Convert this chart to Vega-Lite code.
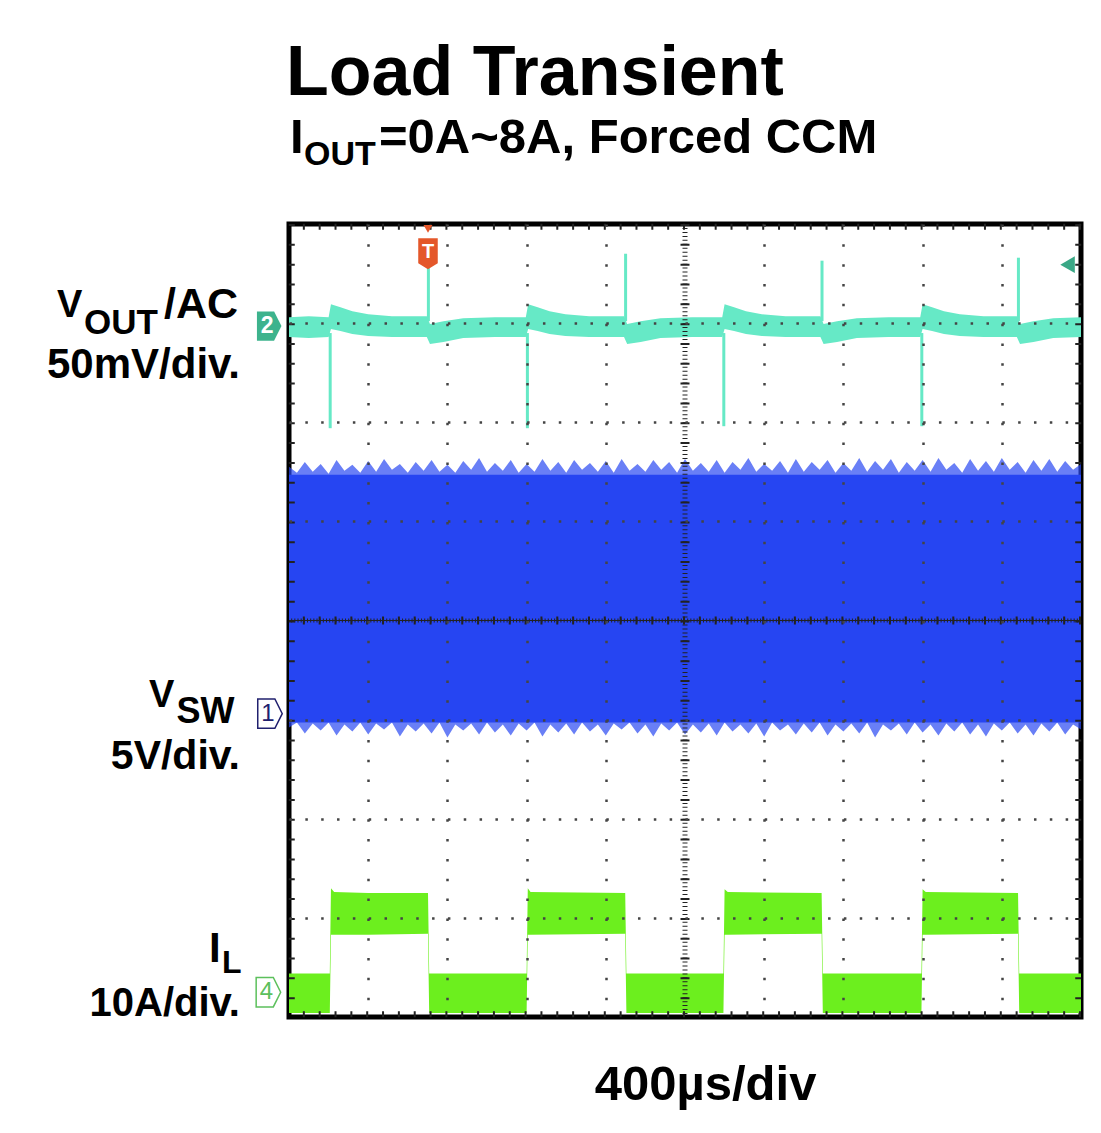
{
  "$schema": "https://vega.github.io/schema/vega-lite/v6.json",
  "autosize": {"type": "none"},
  "padding": {"left": 289, "top": 224, "right": 20, "bottom": 116},
  "width": 792,
  "height": 793,
  "background": "white",
  "config": {
    "view": {"stroke": "#000", "strokeWidth": 5},
    "font": "Liberation Sans",
    "text": {"font": "Liberation Sans"}
  },
  "datasets": {
    "one": [{}],
    "vswcore": [{"t": 0, "hi": 5.47, "lo": 2.97}, {"t": 10, "hi": 5.47, "lo": 2.97}],
    "vsw": [
      {"t":0.0,"fh":5.55,"fl":2.92},{"t":0.1,"fh":5.49,"fl":2.97},{"t":0.2,"fh":5.60,"fl":2.86},{"t":0.3,"fh":5.50,"fl":2.96},{"t":0.4,"fh":5.58,"fl":2.89},
      {"t":0.5,"fh":5.48,"fl":2.97},{"t":0.6,"fh":5.62,"fl":2.84},{"t":0.7,"fh":5.51,"fl":2.95},{"t":0.8,"fh":5.57,"fl":2.88},{"t":0.9,"fh":5.49,"fl":2.97},
      {"t":1.0,"fh":5.61,"fl":2.85},{"t":1.1,"fh":5.50,"fl":2.96},{"t":1.2,"fh":5.63,"fl":2.90},{"t":1.3,"fh":5.52,"fl":2.97},{"t":1.4,"fh":5.58,"fl":2.83},
      {"t":1.5,"fh":5.49,"fl":2.95},{"t":1.6,"fh":5.60,"fl":2.88},{"t":1.7,"fh":5.51,"fl":2.96},{"t":1.8,"fh":5.62,"fl":2.86},{"t":1.9,"fh":5.50,"fl":2.97},
      {"t":2.0,"fh":5.57,"fl":2.82},{"t":2.1,"fh":5.49,"fl":2.95},{"t":2.2,"fh":5.61,"fl":2.89},{"t":2.3,"fh":5.52,"fl":2.96},{"t":2.4,"fh":5.64,"fl":2.85},
      {"t":2.5,"fh":5.50,"fl":2.97},{"t":2.6,"fh":5.59,"fl":2.87},{"t":2.7,"fh":5.51,"fl":2.95},{"t":2.8,"fh":5.62,"fl":2.84},{"t":2.9,"fh":5.49,"fl":2.96},
      {"t":3.0,"fh":5.58,"fl":2.89},{"t":3.1,"fh":5.50,"fl":2.97},{"t":3.2,"fh":5.63,"fl":2.83},{"t":3.3,"fh":5.51,"fl":2.95},{"t":3.4,"fh":5.60,"fl":2.87},
      {"t":3.5,"fh":5.49,"fl":2.96},{"t":3.6,"fh":5.62,"fl":2.85},{"t":3.7,"fh":5.52,"fl":2.97},{"t":3.8,"fh":5.59,"fl":2.88},{"t":3.9,"fh":5.50,"fl":2.95},
      {"t":4.0,"fh":5.61,"fl":2.84},{"t":4.1,"fh":5.49,"fl":2.96},{"t":4.2,"fh":5.63,"fl":2.90},{"t":4.3,"fh":5.51,"fl":2.97},{"t":4.4,"fh":5.58,"fl":2.86},
      {"t":4.5,"fh":5.50,"fl":2.95},{"t":4.6,"fh":5.62,"fl":2.83},{"t":4.7,"fh":5.52,"fl":2.96},{"t":4.8,"fh":5.60,"fl":2.89},{"t":4.9,"fh":5.49,"fl":2.97},
      {"t":5.0,"fh":5.63,"fl":2.85},{"t":5.1,"fh":5.51,"fl":2.95},{"t":5.2,"fh":5.59,"fl":2.87},{"t":5.3,"fh":5.50,"fl":2.96},{"t":5.4,"fh":5.62,"fl":2.84},
      {"t":5.5,"fh":5.49,"fl":2.97},{"t":5.6,"fh":5.60,"fl":2.88},{"t":5.7,"fh":5.52,"fl":2.95},{"t":5.8,"fh":5.64,"fl":2.86},{"t":5.9,"fh":5.50,"fl":2.96},
      {"t":6.0,"fh":5.58,"fl":2.83},{"t":6.1,"fh":5.51,"fl":2.97},{"t":6.2,"fh":5.61,"fl":2.89},{"t":6.3,"fh":5.49,"fl":2.95},{"t":6.4,"fh":5.63,"fl":2.85},
      {"t":6.5,"fh":5.50,"fl":2.96},{"t":6.6,"fh":5.60,"fl":2.87},{"t":6.7,"fh":5.52,"fl":2.97},{"t":6.8,"fh":5.62,"fl":2.84},{"t":6.9,"fh":5.49,"fl":2.95},
      {"t":7.0,"fh":5.59,"fl":2.88},{"t":7.1,"fh":5.51,"fl":2.96},{"t":7.2,"fh":5.64,"fl":2.86},{"t":7.3,"fh":5.50,"fl":2.97},{"t":7.4,"fh":5.61,"fl":2.82},
      {"t":7.5,"fh":5.52,"fl":2.95},{"t":7.6,"fh":5.63,"fl":2.89},{"t":7.7,"fh":5.49,"fl":2.96},{"t":7.8,"fh":5.60,"fl":2.85},{"t":7.9,"fh":5.51,"fl":2.97},
      {"t":8.0,"fh":5.62,"fl":2.87},{"t":8.1,"fh":5.50,"fl":2.95},{"t":8.2,"fh":5.64,"fl":2.84},{"t":8.3,"fh":5.52,"fl":2.96},{"t":8.4,"fh":5.59,"fl":2.88},
      {"t":8.5,"fh":5.49,"fl":2.97},{"t":8.6,"fh":5.63,"fl":2.85},{"t":8.7,"fh":5.51,"fl":2.95},{"t":8.8,"fh":5.61,"fl":2.83},{"t":8.9,"fh":5.50,"fl":2.96},
      {"t":9.0,"fh":5.64,"fl":2.89},{"t":9.1,"fh":5.52,"fl":2.97},{"t":9.2,"fh":5.60,"fl":2.86},{"t":9.3,"fh":5.49,"fl":2.95},{"t":9.4,"fh":5.62,"fl":2.84},
      {"t":9.5,"fh":5.51,"fl":2.96},{"t":9.6,"fh":5.63,"fl":2.88},{"t":9.7,"fh":5.50,"fl":2.97},{"t":9.8,"fh":5.61,"fl":2.85},{"t":9.9,"fh":5.52,"fl":2.95},
      {"t":10.0,"fh":5.58,"fl":2.90}
    ],
    "vout": [
      {"t":0.00,"hi":7.06,"lo":6.86},{"t":0.25,"hi":7.07,"lo":6.85},{"t":0.50,"hi":7.06,"lo":6.86},{"t":0.53,"hi":7.19,"lo":6.94},
      {"t":0.65,"hi":7.16,"lo":6.92},{"t":0.80,"hi":7.12,"lo":6.89},{"t":1.00,"hi":7.09,"lo":6.87},{"t":1.30,"hi":7.07,"lo":6.86},
      {"t":1.74,"hi":7.07,"lo":6.86},{"t":1.78,"hi":6.99,"lo":6.79},{"t":1.95,"hi":7.02,"lo":6.81},{"t":2.20,"hi":7.05,"lo":6.85},
      {"t":2.60,"hi":7.06,"lo":6.86},{"t":2.99,"hi":7.06,"lo":6.86},{"t":3.02,"hi":7.19,"lo":6.94},{"t":3.14,"hi":7.16,"lo":6.92},
      {"t":3.29,"hi":7.12,"lo":6.89},{"t":3.49,"hi":7.09,"lo":6.87},{"t":3.79,"hi":7.07,"lo":6.86},{"t":4.23,"hi":7.07,"lo":6.86},
      {"t":4.27,"hi":6.99,"lo":6.79},{"t":4.44,"hi":7.02,"lo":6.81},{"t":4.69,"hi":7.05,"lo":6.85},{"t":5.09,"hi":7.06,"lo":6.86},
      {"t":5.47,"hi":7.06,"lo":6.86},{"t":5.50,"hi":7.19,"lo":6.94},{"t":5.62,"hi":7.16,"lo":6.92},{"t":5.77,"hi":7.12,"lo":6.89},
      {"t":5.97,"hi":7.09,"lo":6.87},{"t":6.27,"hi":7.07,"lo":6.86},{"t":6.71,"hi":7.07,"lo":6.86},{"t":6.75,"hi":6.99,"lo":6.79},
      {"t":6.92,"hi":7.02,"lo":6.81},{"t":7.17,"hi":7.05,"lo":6.85},{"t":7.57,"hi":7.06,"lo":6.86},{"t":7.97,"hi":7.06,"lo":6.86},
      {"t":8.00,"hi":7.19,"lo":6.94},{"t":8.12,"hi":7.16,"lo":6.92},{"t":8.27,"hi":7.12,"lo":6.89},{"t":8.47,"hi":7.09,"lo":6.87},
      {"t":8.77,"hi":7.07,"lo":6.86},{"t":9.19,"hi":7.07,"lo":6.86},{"t":9.23,"hi":6.99,"lo":6.79},{"t":9.40,"hi":7.02,"lo":6.81},
      {"t":9.65,"hi":7.05,"lo":6.85},{"t":10.00,"hi":7.06,"lo":6.86}
    ],
    "spikes": [
      {"t":0.52,"a":6.90,"b":5.94},{"t":3.01,"a":6.90,"b":5.94},{"t":5.49,"a":6.90,"b":5.96},{"t":7.99,"a":6.90,"b":5.96},
      {"t":1.76,"a":7.02,"b":7.60},{"t":4.25,"a":7.02,"b":7.70},{"t":6.73,"a":7.02,"b":7.63},{"t":9.21,"a":7.02,"b":7.66}
    ],
    "il": [
      {"t":0.00,"hi":0.44,"lo":0.04},{"t":0.515,"hi":0.44,"lo":0.04},{"t":0.53,"hi":1.30,"lo":0.83},{"t":0.57,"hi":1.26,"lo":0.83},
      {"t":1.00,"hi":1.25,"lo":0.83},{"t":1.755,"hi":1.25,"lo":0.84},{"t":1.77,"hi":0.44,"lo":0.04},{"t":3.00,"hi":0.44,"lo":0.04},
      {"t":3.015,"hi":1.30,"lo":0.83},{"t":3.05,"hi":1.26,"lo":0.83},{"t":4.245,"hi":1.25,"lo":0.84},{"t":4.26,"hi":0.44,"lo":0.04},
      {"t":5.485,"hi":0.44,"lo":0.04},{"t":5.50,"hi":1.29,"lo":0.83},{"t":5.54,"hi":1.26,"lo":0.83},{"t":6.725,"hi":1.25,"lo":0.84},
      {"t":6.74,"hi":0.44,"lo":0.04},{"t":7.985,"hi":0.44,"lo":0.04},{"t":8.00,"hi":1.29,"lo":0.83},{"t":8.04,"hi":1.26,"lo":0.83},
      {"t":9.205,"hi":1.25,"lo":0.84},{"t":9.22,"hi":0.44,"lo":0.04},{"t":10.00,"hi":0.44,"lo":0.04}
    ],
    "txtL": [
      {"x":0.013,"y":8.716,"txt":"I","fs":49},
      {"x":0.189,"y":8.595,"txt":"OUT","fs":34},
      {"x":1.136,"y":8.716,"txt":"=0A~8A, Forced CCM","fs":49},
      {"x":-2.929,"y":7.062,"txt":"V","fs":38},
      {"x":-2.588,"y":6.890,"txt":"OUT","fs":35},
      {"x":-1.768,"y":3.127,"txt":"V","fs":38},
      {"x":-1.420,"y":2.966,"txt":"SW","fs":36},
      {"x":-1.010,"y":0.555,"txt":"I","fs":42},
      {"x":-0.846,"y":0.445,"txt":"L","fs":32}
    ],
    "txtR": [
      {"x":-0.644,"y":7.052,"txt":"/AC","fs":43},
      {"x":-0.619,"y":6.447,"txt":"50mV/div.","fs":42},
      {"x":-0.619,"y":2.502,"txt":"5V/div.","fs":41},
      {"x":-0.619,"y":0.010,"txt":"10A/div.","fs":40}
    ],
    "txtB": [{"x":-0.038,"y":9.301,"txt":"Load Transient","fs":70}],
    "txtC": [{"x":5.26,"y":-0.837,"txt":"400µs/div","fs":49}]
  },
  "layer": [
    {
      "data": {"name": "vswcore"},
      "mark": {"type": "area", "color": "#1e3cf2"},
      "encoding": {
        "x": {"field": "t", "type": "quantitative", "scale": {"domain": [0, 10], "nice": false, "zero": false},
              "axis": {"values": [1,2,3,4,6,7,8,9], "labels": false, "ticks": false, "domain": false, "title": null,
                       "grid": true, "gridColor": "#444", "gridWidth": 2.5, "gridDash": [2.5, 17.325], "gridOpacity": 1, "zindex": 1}},
        "y": {"field": "hi", "type": "quantitative", "scale": {"domain": [0, 8], "nice": false, "zero": false},
              "axis": {"values": [1,2,3,5,6,7], "labels": false, "ticks": false, "domain": false, "title": null,
                       "grid": true, "gridColor": "#444", "gridWidth": 2.5, "gridDash": [2.5, 13.34], "gridOpacity": 1, "zindex": 1}},
        "y2": {"field": "lo"}
      }
    },
    {
      "data": {"name": "vsw"},
      "mark": {"type": "area", "color": "#2a48f2", "opacity": 0.7},
      "encoding": {
        "x": {"field": "t", "type": "quantitative"},
        "y": {"field": "fh", "type": "quantitative"},
        "y2": {"field": "fl"}
      }
    },
    {
      "data": {"name": "vout"},
      "mark": {"type": "area", "color": "#66e9c6"},
      "encoding": {
        "x": {"field": "t", "type": "quantitative"},
        "y": {"field": "hi", "type": "quantitative"},
        "y2": {"field": "lo"}
      }
    },
    {
      "data": {"name": "spikes"},
      "mark": {"type": "rule", "color": "#66e9c6", "strokeWidth": 3},
      "encoding": {
        "x": {"field": "t", "type": "quantitative"},
        "y": {"field": "a", "type": "quantitative"},
        "y2": {"field": "b"}
      }
    },
    {
      "data": {"name": "il"},
      "mark": {"type": "area", "color": "#6cef1e"},
      "encoding": {
        "x": {"field": "t", "type": "quantitative"},
        "y": {"field": "hi", "type": "quantitative"},
        "y2": {"field": "lo"}
      }
    },
    {"data": {"name": "one"}, "mark": {"type": "rule", "color": "#222", "strokeWidth": 5, "strokeDash": [1, 2.965]}, "encoding": {"x": {"datum": 5}}},
    {"data": {"name": "one"}, "mark": {"type": "rule", "color": "#222", "strokeWidth": 9, "strokeDash": [2, 17.825]}, "encoding": {"x": {"datum": 5}}},
    {"data": {"name": "one"}, "mark": {"type": "rule", "color": "#222", "strokeWidth": 1}, "encoding": {"y": {"datum": 4}}},
    {"data": {"name": "one"}, "mark": {"type": "rule", "color": "#222", "strokeWidth": 4, "strokeDash": [1, 2.168]}, "encoding": {"y": {"datum": 4}}},
    {"data": {"name": "one"}, "mark": {"type": "rule", "color": "#222", "strokeWidth": 8, "strokeDash": [2, 13.84]}, "encoding": {"y": {"datum": 4}}},
    {"data": {"name": "one"}, "mark": {"type": "rule", "color": "#222", "strokeWidth": 6, "strokeDash": [2, 17.825]}, "encoding": {"x": {"datum": 0.035}}},
    {"data": {"name": "one"}, "mark": {"type": "rule", "color": "#222", "strokeWidth": 6, "strokeDash": [2, 17.825]}, "encoding": {"x": {"datum": 9.965}}},
    {"data": {"name": "one"}, "mark": {"type": "rule", "color": "#222", "strokeWidth": 6, "strokeDash": [2, 13.84]}, "encoding": {"y": {"datum": 7.972}}},
    {"data": {"name": "one"}, "mark": {"type": "rule", "color": "#222", "strokeWidth": 6, "strokeDash": [2, 13.84]}, "encoding": {"y": {"datum": 0.028}}},
    {
      "data": {"name": "one"},
      "mark": {"type": "point", "shape": "M-0.63,-1 L0.63,-1 L0.63,0.62 L0,1 L-0.63,0.62 Z", "filled": true, "color": "#e4572a", "opacity": 1, "size": 960},
      "encoding": {"x": {"datum": 1.755}, "y": {"datum": 7.70}}
    },
    {
      "data": {"name": "one"},
      "mark": {"type": "text", "text": "T", "font": "Liberation Sans", "fontWeight": "bold", "fontSize": 20, "color": "white", "baseline": "middle", "align": "center"},
      "encoding": {"x": {"datum": 1.755}, "y": {"datum": 7.72}}
    },
    {
      "data": {"name": "one"},
      "mark": {"type": "point", "shape": "triangle-down", "filled": true, "color": "#e4572a", "opacity": 1, "size": 80},
      "encoding": {"x": {"datum": 1.755}, "y": {"datum": 7.95}}
    },
    {
      "data": {"name": "one"},
      "mark": {"type": "point", "shape": "triangle-left", "filled": true, "color": "#3aa886", "opacity": 1, "size": 280},
      "encoding": {"x": {"datum": 9.83}, "y": {"datum": 7.59}}
    },
    {
      "data": {"name": "one"},
      "mark": {"type": "point", "shape": "M-1,-1.2 L0.4,-1.2 L1,0 L0.4,1.2 L-1,1.2 Z", "filled": true, "color": "#3db38d", "opacity": 1, "size": 600},
      "encoding": {"x": {"datum": -0.25}, "y": {"datum": 6.97}}
    },
    {
      "data": {"name": "one"},
      "mark": {"type": "text", "text": "2", "font": "Liberation Sans", "fontWeight": "bold", "fontSize": 23, "color": "white", "baseline": "middle", "align": "center", "dx": -2},
      "encoding": {"x": {"datum": -0.25}, "y": {"datum": 6.97}}
    },
    {
      "data": {"name": "one"},
      "mark": {"type": "point", "shape": "M-1,-1.2 L0.4,-1.2 L1,0 L0.4,1.2 L-1,1.2 Z", "filled": true, "fill": "white", "stroke": "#20206e", "strokeWidth": 1.5, "opacity": 1, "size": 600},
      "encoding": {"x": {"datum": -0.24}, "y": {"datum": 3.06}}
    },
    {
      "data": {"name": "one"},
      "mark": {"type": "text", "text": "1", "font": "Liberation Sans", "fontSize": 24, "color": "#20206e", "baseline": "middle", "align": "center", "dx": -2},
      "encoding": {"x": {"datum": -0.24}, "y": {"datum": 3.06}}
    },
    {
      "data": {"name": "one"},
      "mark": {"type": "point", "shape": "M-1,-1.2 L0.4,-1.2 L1,0 L0.4,1.2 L-1,1.2 Z", "filled": true, "fill": "white", "stroke": "#5cc05c", "strokeWidth": 1.5, "opacity": 1, "size": 600},
      "encoding": {"x": {"datum": -0.26}, "y": {"datum": 0.25}}
    },
    {
      "data": {"name": "one"},
      "mark": {"type": "text", "text": "4", "font": "Liberation Sans", "fontSize": 24, "color": "#5cc05c", "baseline": "middle", "align": "center", "dx": -2},
      "encoding": {"x": {"datum": -0.26}, "y": {"datum": 0.25}}
    },
    {
      "data": {"name": "txtL"},
      "mark": {"type": "text", "align": "left", "baseline": "alphabetic", "font": "Liberation Sans", "fontWeight": "bold", "color": "black"},
      "encoding": {
        "x": {"field": "x", "type": "quantitative"},
        "y": {"field": "y", "type": "quantitative"},
        "text": {"field": "txt"},
        "size": {"field": "fs", "type": "quantitative", "scale": null}
      }
    },
    {
      "data": {"name": "txtR"},
      "mark": {"type": "text", "align": "right", "baseline": "alphabetic", "font": "Liberation Sans", "fontWeight": "bold", "color": "black"},
      "encoding": {
        "x": {"field": "x", "type": "quantitative"},
        "y": {"field": "y", "type": "quantitative"},
        "text": {"field": "txt"},
        "size": {"field": "fs", "type": "quantitative", "scale": null}
      }
    },
    {
      "data": {"name": "txtB"},
      "mark": {"type": "text", "align": "left", "baseline": "alphabetic", "font": "Liberation Sans", "fontWeight": "bold", "color": "black"},
      "encoding": {
        "x": {"field": "x", "type": "quantitative"},
        "y": {"field": "y", "type": "quantitative"},
        "text": {"field": "txt"},
        "size": {"field": "fs", "type": "quantitative", "scale": null}
      }
    },
    {
      "data": {"name": "txtC"},
      "mark": {"type": "text", "align": "center", "baseline": "alphabetic", "font": "Liberation Sans", "fontWeight": "bold", "color": "black"},
      "encoding": {
        "x": {"field": "x", "type": "quantitative"},
        "y": {"field": "y", "type": "quantitative"},
        "text": {"field": "txt"},
        "size": {"field": "fs", "type": "quantitative", "scale": null}
      }
    }
  ]
}
